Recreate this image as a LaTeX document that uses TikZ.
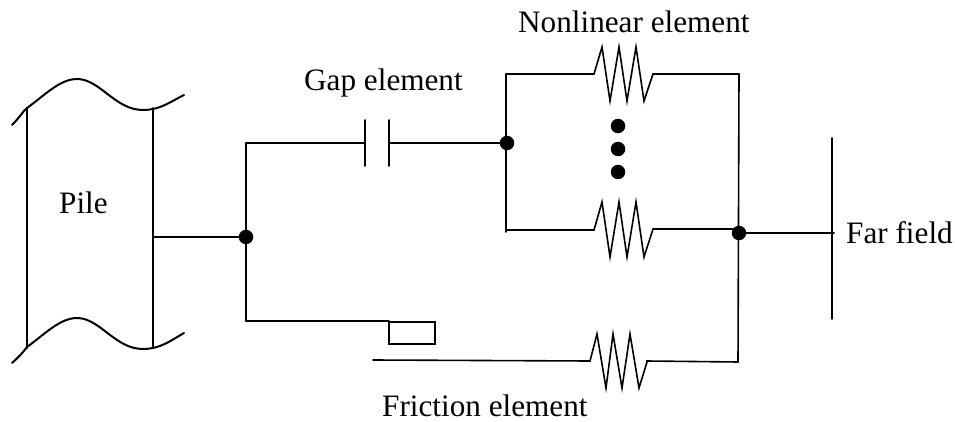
\documentclass[tikz,border=0pt]{standalone}
\usepackage{fontspec}
\setmainfont{Liberation Serif}
\tikzset{
  x=1pt,y=-1pt,
  wire/.style={line width=1.6pt,line cap=round,line join=miter,black},
  thick wire/.style={line width=2pt,line cap=round,black},
  dotnode/.style={circle,fill=black,inner sep=0pt,minimum size=14.5pt},
  label text/.style={inner sep=0pt,font=\fontsize{31.2}{36}\selectfont,text=black,anchor=base west}
}
\begin{document}
\begin{tikzpicture}
\useasboundingbox (0,0) rectangle (955,422);
% pile
\draw[wire] (27,108) -- (27,348);
\draw[wire] (153,108) -- (153,348);
\draw[thick wire] (12,125) .. controls (20,117) and (24,110) .. (27,108) .. controls (45,95) and (60,79) .. (77,79) .. controls (100,79) and (115,110) .. (143,110) .. controls (160,110) and (170,102) .. (184,95);
\draw[thick wire] (12,363) .. controls (20,356) and (24,351) .. (27,347) .. controls (45,334) and (60,318) .. (77,318) .. controls (100,318) and (115,349) .. (143,349) .. controls (160,349) and (170,341) .. (184,333);
\coordinate (pileport) at (153,237);
\node[dotnode] (j1) at (246,237) {};
\node[dotnode] (j2) at (507,143) {};
\node[dotnode] (j3) at (739,233) {};
\draw[wire] (pileport) -- (j1);
% branch nodes
\coordinate (j1top) at (246,143);
\coordinate (j1bot) at (246,321);
\draw[wire] (j1top) -- (j1bot);
% gap
\coordinate (gapL) at (365,143);
\coordinate (gapR) at (389,143);
\draw[wire] (j1top) -- (gapL);
\draw[wire] (365,120) -- (365,166);
\draw[wire] (389,120) -- (389,166);
\draw[wire] (gapR) -- (j2);
% parallel springs
\coordinate (j2top) at (506,74);
\coordinate (j2bot) at (506,232);
\draw[wire] (j2top) -- (j2bot);
\coordinate (s1a) at (594,74);
\coordinate (s1b) at (653,74);
\coordinate (s2a) at (594,230);
\coordinate (s2b) at (653,229);
\coordinate (r1) at (739,74);
\coordinate (r2) at (739,229);
\coordinate (r3) at (738,362);
\draw[wire] (j2top) -- (s1a) -- (602,47) -- (610,101) -- (619,47) -- (627,101) -- (636,47) -- (644,101) -- (s1b) -- (r1);
\draw[wire] (506,230) -- (s2a) -- (602,202) -- (610,257) -- (619,202) -- (627,257) -- (636,202) -- (644,257) -- (s2b) -- (r2);
\draw[wire] (r1) -- (r3);
% dots
\node[dotnode] (d1) at (618,126) {};
\node[dotnode] (d2) at (618,149) {};
\node[dotnode] (d3) at (618,172) {};
% far field
\coordinate (ff) at (834,233);
\draw[wire] (j3) -- (ff);
\draw[wire] (832,138) -- (832,319);
% friction
\coordinate (fbox) at (389,321);
\draw[wire] (j1bot) -- (fbox);
\draw[wire] (389,322) rectangle (435,344);
\coordinate (fs) at (373,360);
\draw[wire] (fs) -- (590,361) -- (597,334) -- (606,388) -- (613,334) -- (622,388) -- (630,334) -- (639,388) -- (647,362) -- (647,361) -- (r3);
% labels
\node[label text] (nl) at (518,33) {Nonlinear element};
\node[label text] (gap) at (304,91) {Gap element};
\node[label text] (pile) at (59,213) {Pile};
\node[label text] (ffl) at (846,243) {Far field};
\node[label text] (fr) at (382,416) {Friction element};
\end{tikzpicture}
\end{document}
